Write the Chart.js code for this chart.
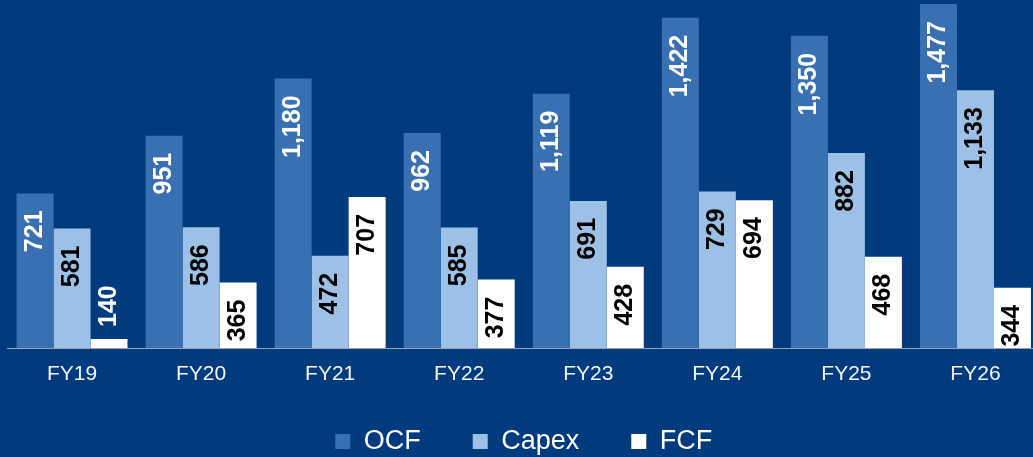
<!DOCTYPE html>
<html>
<head>
<meta charset="utf-8">
<script src="https://cdn.jsdelivr.net/npm/chart.js@4.4.0/dist/chart.umd.min.js"></script>
<style>
  html, body { margin: 0; padding: 0; background: #003b7e; overflow: hidden; }
  #wrap { position: absolute; left: 0; top: 0; width: 1041px; height: 465px; }
</style>
</head>
<body>
<div id="wrap"><canvas id="cashChart"></canvas></div>
<script>
const years = ["FY19", "FY20", "FY21", "FY22", "FY23", "FY24", "FY25", "FY26"];
const ocf = [721, 951, 1180, 962, 1119, 1422, 1350, 1477];
const capex = [581, 586, 472, 585, 691, 729, 882, 1133];
const fcf = [140, 365, 707, 377, 428, 694, 468, 344];

const FONT = "'Liberation Sans', Arial, sans-serif";

// vertical value labels at the top of each bar
const barLabels = {
    id: "barLabels",
    afterDatasetsDraw(chart) {
        const ctx = chart.ctx;
        ctx.save();
        ctx.font = "bold 25px " + FONT;
        ctx.textBaseline = "middle";
        chart.data.datasets.forEach((ds, di) => {
            const meta = chart.getDatasetMeta(di);
            meta.data.forEach((bar, i) => {
                const text = ds.data[i].toLocaleString("en-US");
                const w = ctx.measureText(text).width;
                const h = bar.base - bar.y;
                ctx.save();
                if (h >= w + 16) {
                    ctx.translate(bar.x, bar.y + 17);
                    ctx.rotate(-Math.PI / 2);
                    ctx.textAlign = "right";
                    ctx.fillStyle = ds.labelColor;
                } else {
                    ctx.translate(bar.x, bar.y - 12);
                    ctx.rotate(-Math.PI / 2);
                    ctx.textAlign = "left";
                    ctx.fillStyle = "#ffffff";
                }
                ctx.fillText(text, 0, 0);
                ctx.restore();
            });
        });
        ctx.restore();
    }
};

// the x axis is kept short for layout; give its labels room to draw
const labelRoom = {
    id: "labelRoom",
    afterLayout(chart) {
        const x = chart.scales.x;
        x.bottom = x.top + 45;
    }
};

new Chart(document.getElementById("cashChart"), {
    type: "bar",
    data: {
        labels: years,
        datasets: [
            { label: "OCF", data: ocf, backgroundColor: "#3870b2", labelColor: "#ffffff" },
            { label: "Capex", data: capex, backgroundColor: "#9dc1e6", labelColor: "#000000" },
            { label: "FCF", data: fcf, backgroundColor: "#ffffff", labelColor: "#000000" }
        ]
    },
    options: {
        responsive: true,
        maintainAspectRatio: false,
        animation: false,
        layout: { padding: { left: 7.5, right: 1, top: 0, bottom: 0 } },
        datasets: {
            bar: { barPercentage: 1.0, categoryPercentage: 0.86 }
        },
        scales: {
            x: {
                grid: { display: false, drawTicks: false },
                border: { display: true, color: "#9aa3b2", width: 1 },
                ticks: {
                    color: "#f4f6fa",
                    padding: 14,
                    font: { family: FONT, size: 21 }
                },
                afterFit(scale) { scale.height = 28; }
            },
            y: {
                display: false,
                min: 104,
                max: 1493
            }
        },
        plugins: {
            legend: {
                position: "bottom",
                labels: {
                    color: "#ffffff",
                    boxWidth: 15,
                    boxHeight: 15,
                    padding: 52,
                    font: { family: FONT, size: 27 }
                }
            },
            tooltip: { enabled: false }
        }
    },
    plugins: [barLabels, labelRoom]
});
</script>
</body>
</html>
